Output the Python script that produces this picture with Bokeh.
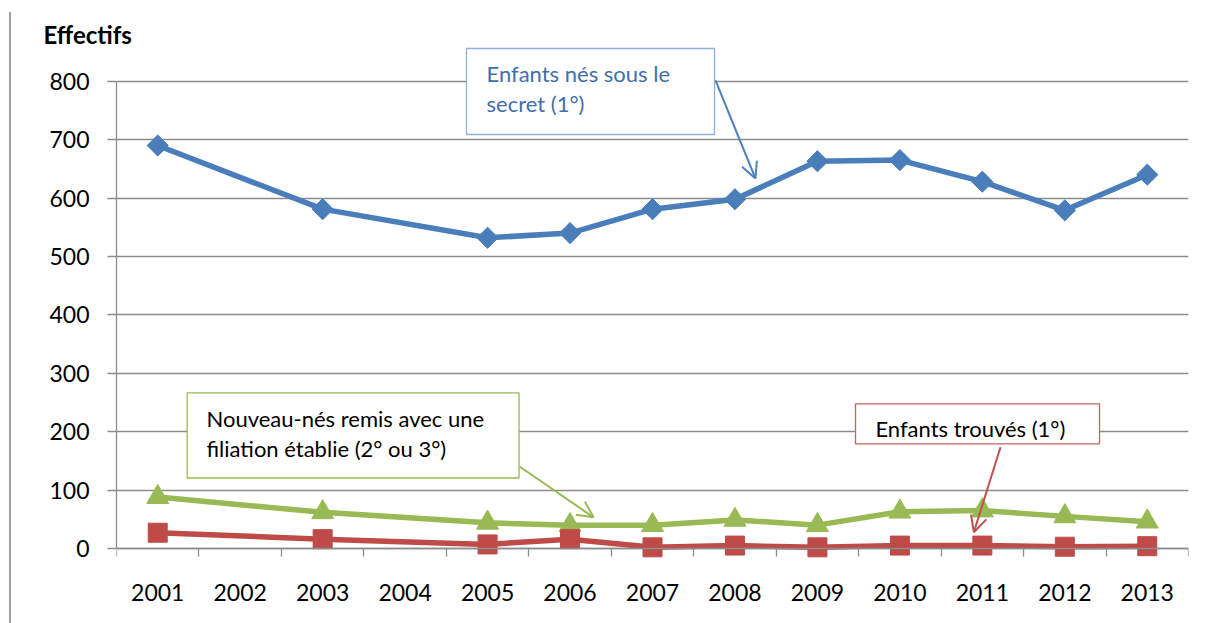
from bokeh.plotting import figure
from bokeh.models import (Range1d, FixedTicker, BoxAnnotation, Label, Arrow, OpenHead,
                          Title, LinearAxis)
from bokeh.embed import file_html
from bokeh.resources import INLINE

# ---------------- data ----------------
categories = ["2001", "2002", "2003", "2004", "2005", "2006", "2007",
              "2008", "2009", "2010", "2011", "2012", "2013"]
data_years = ["2001", "2003", "2005", "2006", "2007", "2008", "2009",
              "2010", "2011", "2012", "2013"]
secret = [690, 581, 532, 540, 581, 598, 663, 665, 628, 579, 640]
nouveau_nes = [88, 62, 44, 40, 40, 49, 40, 63, 65, 55, 46]
trouves = [27, 16, 7, 16, 2, 5, 2, 5, 5, 3, 4]
y_ticks = [0, 100, 200, 300, 400, 500, 600, 700, 800]
y_title = "Effectifs"
label_secret = ["Enfants nés sous le", "secret (1°)"]
label_nouveau = ["Nouveau-nés remis avec une", "filiation établie (2° ou 3°)"]
label_trouves = ["Enfants trouvés (1°)"]

# ---------------- styles ----------------
FONT = "Lato"
BLUE = "#4a7ebb"
RED = "#be4b48"
GREEN = "#98b954"
GRID = "#8c8c8c"

xs = [categories.index(y) for y in data_years]

p = figure(width=1206, height=623, output_backend="svg", toolbar_location=None,
           x_range=Range1d(-0.5, len(categories) - 0.5), y_range=Range1d(-18.83, 859.5),
           min_border_left=116, min_border_right=18, min_border_top=46,
           min_border_bottom=64)
p.outline_line_color = None
p.background_fill_color = "white"
p.border_fill_color = None
p.styles = {
    "background-color": "white",
    "background-image": "linear-gradient(#a0a0a0, #a0a0a0)",
    "background-repeat": "no-repeat",
    "background-position": "9px 12px",
    "background-size": "2px 611px",
}

p.title = Title(text=y_title, align="left", offset=-73, standoff=-5,
                text_font=FONT, text_font_size="24px", text_font_style="bold",
                text_color="black")

# x axis labels (at the frame's lower edge)
p.xaxis.ticker = FixedTicker(ticks=list(range(len(categories))))
p.xaxis.major_label_overrides = {i: c for i, c in enumerate(categories)}
p.xaxis.axis_line_color = None
p.xaxis.major_tick_line_color = None
p.xaxis.minor_tick_line_color = None
p.xaxis.major_tick_out = 0
p.xaxis.major_tick_in = 0
p.xaxis.minor_tick_out = 0
p.xaxis.minor_tick_in = 0
p.xaxis.major_label_text_font = FONT
p.xaxis.major_label_text_font_size = "23px"
p.xaxis.major_label_text_color = "black"
p.xaxis.major_label_standoff = 24

# x axis line and category separators, at value 0
x_line = LinearAxis(fixed_location=0,
                    ticker=FixedTicker(ticks=list(range(len(categories))),
                                       minor_ticks=[i - 0.5 for i in range(len(categories) + 1)]),
                    major_label_overrides={i: "" for i in range(len(categories))},
                    major_label_text_font_size="1px", major_label_standoff=0,
                    major_tick_out=0, major_tick_in=0,
                    minor_tick_out=8, minor_tick_in=0,
                    minor_tick_line_color=GRID, minor_tick_line_width=1.3,
                    axis_line_color=GRID, axis_line_width=1.3)
p.add_layout(x_line, "below")

p.yaxis.ticker = FixedTicker(ticks=y_ticks)
p.yaxis.bounds = (y_ticks[0], y_ticks[-1])
p.yaxis.major_tick_out = 9
p.yaxis.major_tick_in = 0
p.yaxis.minor_tick_out = 0
p.yaxis.minor_tick_in = 0
p.yaxis.major_tick_line_color = GRID
p.yaxis.major_tick_line_width = 1.3
p.yaxis.axis_line_color = GRID
p.yaxis.axis_line_width = 1.3
p.yaxis.major_label_text_font = FONT
p.yaxis.major_label_text_font_size = "23px"
p.yaxis.major_label_text_color = "black"
p.yaxis.major_label_standoff = 18

p.xgrid.grid_line_color = None
p.ygrid.grid_line_color = GRID
p.ygrid.grid_line_width = 1.3

# series
p.line(xs, secret, line_color=BLUE, line_width=5.5)
p.scatter(xs, secret, marker="square", angle=0.785398, size=15,
          fill_color=BLUE, line_color=BLUE)
p.line(xs, nouveau_nes, line_color=GREEN, line_width=5.5)
p.scatter(xs, nouveau_nes, marker="triangle", size=22,
          fill_color=GREEN, line_color=GREEN)
p.line(xs, trouves, line_color=RED, line_width=5.5)
p.scatter(xs, trouves, marker="square", size=19,
          fill_color=RED, line_color=RED)

def callout(box, lines, text_x, baselines, color, border, arrow_color, arrow):
    p.add_layout(BoxAnnotation(left=box[0], right=box[1], top=box[2], bottom=box[3],
                               fill_color="white", fill_alpha=1.0,
                               line_color=border, line_width=1.3, line_alpha=1.0))
    for t, b in zip(lines, baselines):
        p.add_layout(Label(x=text_x, y=b, text=t, text_font=FONT,
                           text_font_size="22px", text_color=color,
                           text_baseline="alphabetic"))
    p.add_layout(Arrow(x_start=arrow[0], y_start=arrow[1], x_end=arrow[2], y_end=arrow[3],
                       line_color=arrow_color, line_width=2,
                       end=OpenHead(size=16, line_color=arrow_color, line_width=2)))

callout((3.744, 6.752, 856.1, 708.8), label_secret, 3.987, (813.8, 762.4),
        "#3f6fae", "#8eb0da", "#4f81bd", (6.764, 801.3, 7.249, 633.5))
callout((0.357, 4.382, 266.6, 120.7), label_nouveau, 0.591, (223.1, 171.2),
        "black", GREEN, GREEN, (4.387, 140.4, 5.285, 53.4))
callout((8.462, 11.421, 247.7, 179.3), label_trouves, 8.704, (206.0,),
        "black", "#c9625f", "#c0504d", (10.220, 173.4, 9.897, 27.9))

open("out.html", "w").write(file_html(p, INLINE))
